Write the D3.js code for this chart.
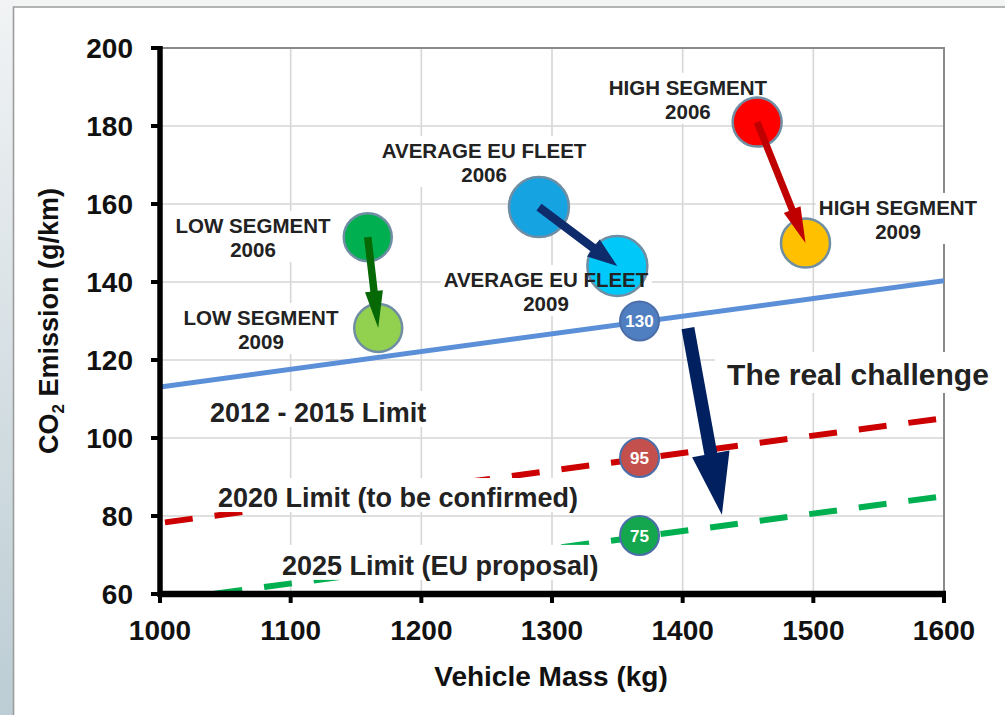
<!DOCTYPE html>
<html>
<head>
<meta charset="utf-8">
<script src="https://cdn.jsdelivr.net/npm/d3@7"></script>
<style>
  html, body { margin: 0; padding: 0; background: #ffffff; }
  svg { display: block; }
  text { font-family: "Liberation Sans", Arial, sans-serif; }
</style>
</head>
<body>
<svg id="chart" width="1005" height="715"></svg>
<script>
// ---- data -------------------------------------------------------------
const massTicks = [1000, 1100, 1200, 1300, 1400, 1500, 1600];
const emissionTicks = [60, 80, 100, 120, 140, 160, 180, 200];

const segments = ["LOW SEGMENT", "AVERAGE EU FLEET", "HIGH SEGMENT"];
const mass2006 = [1159, 1290, 1457];
const co2_2006 = [151.5, 159.2, 181.0];
const mass2009 = [1167, 1350, 1494];
const co2_2009 = [128.2, 144.1, 150.0];

const limitNames = ["2012 - 2015 Limit", "2020 Limit (to be confirmed)", "2025 Limit (EU proposal)"];
const limitTargets = [130, 95, 75];
const limitAtMass1000 = [113.1, 78.2, 58.2];
const limitAtMass1600 = [140.3, 105.1, 85.1];
const referenceMass = 1367;

const challengeFrom = [1404, 128.2];
const challengeTo = [1430, 80.3];

// ---- layout / style ---------------------------------------------------
const svg = d3.select("#chart");
const W = 1005, H = 715;
const plot = { left: 160, right: 944, top: 48, bottom: 594 };

const x = d3.scaleLinear().domain([1000, 1600]).range([plot.left, plot.right]);
const y = d3.scaleLinear().domain([60, 200]).range([plot.bottom, plot.top]);

const bubbleFill2006 = ["#00b050", "#16a3e2", "#ff0000"];
const bubbleFill2009 = ["#92d050", "#00c9fa", "#ffc000"];
const bubbleRadius = [24, 30, 24.5];
const arrowColor = ["#066906", "#0e2b6c", "#c00000"];
const limitColor = ["#5b8fd8", "#cc0000", "#00b050"];
const badgeFill = ["#4f7fc0", "#c4504e", "#14a74d"];

// ---- slide frame ------------------------------------------------------
const defs = svg.append("defs");
const grad = defs.append("linearGradient").attr("id", "sideGrad")
  .attr("x1", 0).attr("y1", 0).attr("x2", 0).attr("y2", 1);
grad.append("stop").attr("offset", "0%").attr("stop-color", "#f1f3f4");
grad.append("stop").attr("offset", "100%").attr("stop-color", "#bccdd4");
svg.append("rect").attr("x", 0).attr("y", 0).attr("width", W).attr("height", 7).attr("fill", "#f3f4f4");
svg.append("rect").attr("x", 0).attr("y", 0).attr("width", 13.5).attr("height", H).attr("fill", "url(#sideGrad)");
svg.append("path").attr("d", `M13.5,${H} V7 H${W}`).attr("fill", "none")
  .attr("stroke", "#9c9c9c").attr("stroke-width", 1.6);

defs.append("clipPath").attr("id", "plotClip").append("rect")
  .attr("x", plot.left).attr("y", plot.top)
  .attr("width", plot.right - plot.left).attr("height", plot.bottom - plot.top);

// ---- grid -------------------------------------------------------------
const grid = svg.append("g").attr("stroke", "#d6d6d6").attr("stroke-width", 1.6);
grid.selectAll("line.gx").data(massTicks.slice(1, -1)).join("line")
  .attr("x1", d => x(d)).attr("x2", d => x(d)).attr("y1", plot.top).attr("y2", plot.bottom);
grid.selectAll("line.gy").data(emissionTicks.slice(1, -1)).join("line")
  .attr("y1", d => y(d)).attr("y2", d => y(d)).attr("x1", plot.left).attr("x2", plot.right);

// plot frame (top & right)
svg.append("path")
  .attr("d", `M${plot.left},${y(200)} H${x(1600)} V${plot.bottom}`)
  .attr("fill", "none").attr("stroke", "#8a8a8a").attr("stroke-width", 2);

// ---- limit lines --------------------------------------------------------
const limitG = svg.append("g").attr("clip-path", "url(#plotClip)");
limitNames.forEach((name, i) => {
  limitG.append("line")
    .attr("x1", x(1000)).attr("y1", y(limitAtMass1000[i]))
    .attr("x2", x(1600)).attr("y2", y(limitAtMass1600[i]))
    .attr("stroke", limitColor[i])
    .attr("stroke-width", i === 0 ? 5 : 6)
    .attr("stroke-dasharray", i === 0 ? null : "28 22")
    .attr("stroke-dashoffset", i === 0 ? null : 45);
});

// ---- label helper: text block with white backing --------------------------
const labelLayer = svg.append("g");
const boxLayer = labelLayer.append("g");
const textLayer = svg.append("g"); // raised later to sit above bubbles

function labelBlock(lines, cx, baseline, opts) {
  const g = boxLayer.append("g");
  const t = g.append("text")
    .attr("text-anchor", opts.anchor || "middle")
    .attr("font-size", opts.size).attr("font-weight", "bold")
    .attr("fill", "#222222");
  lines.forEach((ln, k) => {
    t.append("tspan").attr("x", cx).attr("y", baseline + k * opts.lead).text(ln);
  });
  const bb = t.node().getBBox();
  const pad = opts.pad || [4, 4, 2, 4];
  g.insert("rect", "text")
    .attr("x", bb.x - pad[3]).attr("y", bb.y - pad[0])
    .attr("width", bb.width + pad[1] + pad[3]).attr("height", bb.height + pad[0] + pad[2])
    .attr("fill", "#ffffff");
  return { g, t };
}

// ---- limit labels -------------------------------------------------------
const limitLabelPos = [[1038.3, 104.1], [1044.4, 82.3], [1093.4, 64.9]];
const limitLabelPadTop = [7, 5, 6];
limitNames.forEach((name, i) =>
  labelBlock([name], x(limitLabelPos[i][0]), y(limitLabelPos[i][1]),
    { size: 27, anchor: "start", lead: 0, pad: [limitLabelPadTop[i], 6, -1, 7] }));

// "The real challenge" annotation
labelBlock(["The real challenge"], x(1434), y(113.6),
  { size: 30, anchor: "start", lead: 0, pad: [6, 6, 2, 12] });

// ---- segment labels (boxes behind bubbles, text above) -------------------
const segLabelPos2006 = [[1071.2, 152.6], [1248, 171.8], [1404, 188.0]];
const segLabelPos2009 = [[1077.3, 129.0], [1295.4, 138.7], [1564.8, 157.2]];
const segLabels = [];
segments.forEach((s, i) => {
  segLabels.push(labelBlock([s, "2006"], x(segLabelPos2006[i][0]), y(segLabelPos2006[i][1]),
    { size: 20.5, lead: 24, pad: [3, 3, 1, 3] }));
  segLabels.push(labelBlock([s, "2009"], x(segLabelPos2009[i][0]), y(segLabelPos2009[i][1]),
    { size: 20.5, lead: 24, pad: [3, 3, 1, 3] }));
});

// ---- bubbles ------------------------------------------------------------
const bubbleG = svg.append("g");
segments.forEach((s, i) => {
  bubbleG.append("circle")
    .attr("cx", x(mass2006[i])).attr("cy", y(co2_2006[i])).attr("r", bubbleRadius[i])
    .attr("fill", bubbleFill2006[i]).attr("stroke", "#6f8ea3").attr("stroke-width", 2.5);
  bubbleG.append("circle")
    .attr("cx", x(mass2009[i])).attr("cy", y(co2_2009[i])).attr("r", bubbleRadius[i])
    .attr("fill", bubbleFill2009[i]).attr("stroke", "#6f8ea3").attr("stroke-width", 2.5);
});

// ---- arrows ---------------------------------------------------------------
function arrowPath(x1, y1, x2, y2, shaft, headW, headL) {
  const dx = x2 - x1, dy = y2 - y1;
  const len = Math.hypot(dx, dy);
  const ux = dx / len, uy = dy / len;
  const nx = -uy, ny = ux;
  const bx = x2 - ux * headL, by = y2 - uy * headL;
  const s = shaft / 2, h = headW / 2;
  const pts = [
    [x1 + nx * s, y1 + ny * s],
    [bx + nx * s, by + ny * s],
    [bx + nx * h, by + ny * h],
    [x2, y2],
    [bx - nx * h, by - ny * h],
    [bx - nx * s, by - ny * s],
    [x1 - nx * s, y1 - ny * s]
  ];
  return "M" + pts.map(p => p[0].toFixed(1) + "," + p[1].toFixed(1)).join("L") + "Z";
}

const arrowG = svg.append("g");
const arrowDims = [[7.5, 18, 37], [8.5, 21, 30], [7, 18, 36]];
segments.forEach((s, i) => {
  arrowG.append("path")
    .attr("d", arrowPath(x(mass2006[i]), y(co2_2006[i]), x(mass2009[i]), y(co2_2009[i]),
      arrowDims[i][0], arrowDims[i][1], arrowDims[i][2]))
    .attr("fill", arrowColor[i]);
});
arrowG.append("path")
  .attr("d", arrowPath(x(challengeFrom[0]), y(challengeFrom[1]), x(challengeTo[0]), y(challengeTo[1]), 13, 38, 62))
  .attr("fill", "#002060");

// ---- target badges ----------------------------------------------------------
const badgeG = svg.append("g");
limitTargets.forEach((v, i) => {
  const cx = x(referenceMass), cy = y(v);
  badgeG.append("circle").attr("cx", cx).attr("cy", cy).attr("r", 19.5)
    .attr("fill", badgeFill[i]).attr("stroke", "#4b6ea8").attr("stroke-width", 2);
  badgeG.append("text").attr("x", cx).attr("y", cy).attr("dy", "0.36em")
    .attr("text-anchor", "middle").attr("fill", "#ffffff")
    .attr("font-family", "'Open Sans', sans-serif").attr("font-weight", 600)
    .attr("font-size", 17).text(v);
});

// ---- raise segment label text above bubbles ------------------------------------
segLabels.forEach(l => textLayer.node().appendChild(l.t.node()));
textLayer.raise();

// ---- axes ---------------------------------------------------------------------
const axisG = svg.append("g");
axisG.append("line").attr("x1", plot.left).attr("x2", plot.left)
  .attr("y1", plot.top - 2).attr("y2", plot.bottom + 3)
  .attr("stroke", "#000").attr("stroke-width", 5.5);
axisG.append("line").attr("x1", plot.left - 2).attr("x2", plot.right + 2)
  .attr("y1", plot.bottom).attr("y2", plot.bottom)
  .attr("stroke", "#000").attr("stroke-width", 6.5);

axisG.selectAll("line.ty").data(emissionTicks).join("line")
  .attr("x1", plot.left - 9).attr("x2", plot.left)
  .attr("y1", d => y(d)).attr("y2", d => y(d))
  .attr("stroke", "#000").attr("stroke-width", 4);
axisG.selectAll("line.tx").data(massTicks).join("line")
  .attr("x1", d => x(d)).attr("x2", d => x(d))
  .attr("y1", plot.bottom).attr("y2", plot.bottom + 9)
  .attr("stroke", "#000").attr("stroke-width", 4);

axisG.selectAll("text.yl").data(emissionTicks).join("text")
  .attr("x", plot.left - 27).attr("y", d => y(d)).attr("dy", "0.36em")
  .attr("text-anchor", "end").attr("font-size", 28).attr("font-weight", "bold")
  .attr("fill", "#111").text(d => d);
axisG.selectAll("text.xl").data(massTicks).join("text")
  .attr("x", d => x(d)).attr("y", 640)
  .attr("text-anchor", "middle").attr("font-size", 28).attr("font-weight", "bold")
  .attr("fill", "#111").text(d => d);

// axis titles
svg.append("text").attr("x", (plot.left + plot.right) / 2 - 1).attr("y", 686)
  .attr("text-anchor", "middle").attr("font-size", 28).attr("font-weight", "bold")
  .attr("fill", "#111").text("Vehicle Mass (kg)");

const yt = svg.append("text")
  .attr("transform", `translate(58,${(plot.top + plot.bottom) / 2}) rotate(-90)`)
  .attr("text-anchor", "middle").attr("font-size", 27).attr("font-weight", "bold")
  .attr("fill", "#111");
yt.append("tspan").text("CO");
yt.append("tspan").attr("font-size", 17).attr("dy", 6).text("2");
yt.append("tspan").attr("dy", -6).text(" Emission (g/km)");
</script>
</body>
</html>
